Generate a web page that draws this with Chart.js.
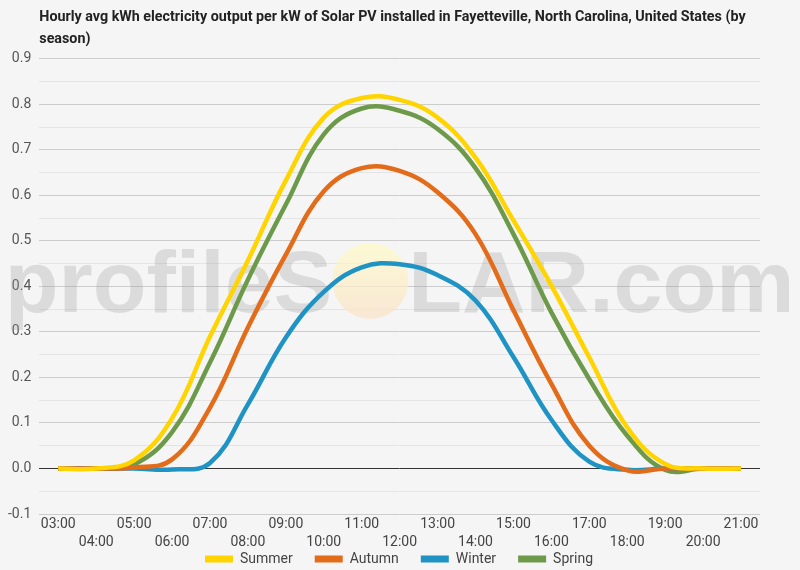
<!DOCTYPE html>
<html>
  <head>
    <script src="https://cdn.jsdelivr.net/npm/chart.js@4"></script>
    <style>
      body { margin: 0; background: #f5f5f5; }
      #wrap { width: 800px; height: 570px; }
    </style>
  </head>

  <body>
    <div id="wrap">
      <canvas id="canvas"></canvas>
    </div>
    <script>
      const hours = ['03:00', '04:00', '05:00', '06:00', '07:00', '08:00', '09:00', '10:00', '11:00', '12:00',
        '13:00', '14:00', '15:00', '16:00', '17:00', '18:00', '19:00', '20:00', '21:00'];
      const summer = [0, 0, 0.018, 0.11, 0.29, 0.457, 0.633, 0.771, 0.814, 0.81, 0.771, 0.683, 0.545, 0.402, 0.244, 0.09, 0.01, 0, 0];
      const autumn = [0, 0, 0.002, 0.02, 0.134, 0.31, 0.47, 0.609, 0.66, 0.654, 0.607, 0.515, 0.348, 0.186, 0.05, -0.004, 0, 0, 0];
      const winter = [0, 0, 0, -0.002, 0.012, 0.141, 0.288, 0.388, 0.442, 0.449, 0.425, 0.369, 0.245, 0.107, 0.015, -0.003, 0, 0, 0];
      const spring = [0, 0, 0.009, 0.08, 0.233, 0.415, 0.58, 0.734, 0.791, 0.786, 0.746, 0.66, 0.515, 0.343, 0.196, 0.072, -0.003, 0, 0];

      const titleLines = [
        'Hourly avg kWh electricity output per kW of Solar PV installed in Fayetteville, North Carolina, United States (by',
        'season)',
      ];

      // profileSOLAR watermark behind the lines, plus a couple of layout nudges
      const watermark = {
        id: 'watermark',
        afterLayout(chart) {
          // legend width counts a trailing gap, push it back to the centre
          chart.legend.left += 19;
          chart.legend.right += 19;
          // let the second row of hour labels show below the shrunk x axis
          chart.scales.x.bottom = chart.height;
        },
        beforeDatasetsDraw(chart) {
          const { ctx, chartArea } = chart;
          const cx = chartArea.left + 331;
          const base = chartArea.top + 253;
          ctx.save();
          ctx.font = 'bold 88px "Liberation Sans", Arial, sans-serif';
          ctx.fillStyle = 'rgba(150,150,150,0.27)';
          ctx.textBaseline = 'alphabetic';
          ctx.textAlign = 'right';
          ctx.fillText('profileS', cx - 38, base);
          ctx.textAlign = 'left';
          ctx.fillText('LAR.com', cx + 38, base);
          const g = ctx.createLinearGradient(0, base - 68, 0, base);
          g.addColorStop(0, 'rgba(253,250,200,0.75)');
          g.addColorStop(1, 'rgba(250,228,200,0.75)');
          ctx.fillStyle = g;
          ctx.beginPath();
          ctx.arc(cx, base - 31, 38, 0, Math.PI * 2);
          ctx.fill();
          ctx.restore();
        },
      };

      const mk = (label, data, color) => ({
        label,
        data,
        borderColor: color,
        backgroundColor: color,
        borderWidth: 4.5,
        pointRadius: 0,
        tension: 0.4,
      });

      new Chart(document.getElementById('canvas').getContext('2d'), {
        type: 'line',
        data: {
          labels: hours,
          datasets: [
            mk('Summer', summer, '#ffd400'),
            mk('Autumn', autumn, '#e36c1a'),
            mk('Winter', winter, '#1f93c3'),
            mk('Spring', spring, '#6c9a4a'),
          ],
        },
        plugins: [watermark],
        options: {
          responsive: true,
          maintainAspectRatio: false,
          animation: false,
          layout: {
            padding: { left: 0, right: 40, top: 0, bottom: -6 },
          },
          plugins: {
            title: {
              display: true,
              text: titleLines,
              align: 'start',
              fullSize: false,
              color: '#222',
              font: { family: 'Roboto', size: 14.3, weight: 'bold', lineHeight: 1.5 },
              padding: { top: 7, bottom: 9 },
            },
            legend: {
              position: 'bottom',
              labels: {
                color: '#444',
                font: { family: 'Roboto', size: 14 },
                boxWidth: 28,
                boxHeight: 7,
                padding: 22,
                generateLabels: (chart) =>
                  Chart.defaults.plugins.legend.labels
                    .generateLabels(chart)
                    .map((l) => ({ ...l, lineWidth: 0, fillStyle: l.strokeStyle })),
              },
            },
            tooltip: { enabled: false },
          },
          scales: {
            x: {
              offset: true,
              grid: { display: false, tickLength: 0 },
              border: { display: false },
              // the two label rows may run into the legend's empty top gap
              afterFit: (scale) => {
                scale.height = 16;
              },
              ticks: {
                autoSkip: false,
                maxRotation: 0,
                color: '#444',
                padding: 2,
                font: { family: 'Roboto', size: 14, lineHeight: 1.25 },
                callback: (v, i) => (i % 2 === 0 ? [hours[i], ''] : ['', hours[i]]),
              },
            },
            y: {
              min: -0.1,
              max: 0.9,
              border: { display: false },
              grid: {
                drawTicks: false,
                lineWidth: 1,
                color: (c) => {
                  const k = Math.round(c.tick.value * 20);
                  if (k === 0) return '#333';
                  return k % 2 === 0 ? '#cccccc' : '#e4e4e4';
                },
              },
              ticks: {
                stepSize: 0.05,
                color: '#555',
                padding: 8,
                font: { family: 'Roboto', size: 14 },
                callback: (v) => (Math.round(v * 20) % 2 === 0 ? v.toFixed(1) : ''),
              },
            },
          },
        },
      });
    </script>
  </body>
</html>
